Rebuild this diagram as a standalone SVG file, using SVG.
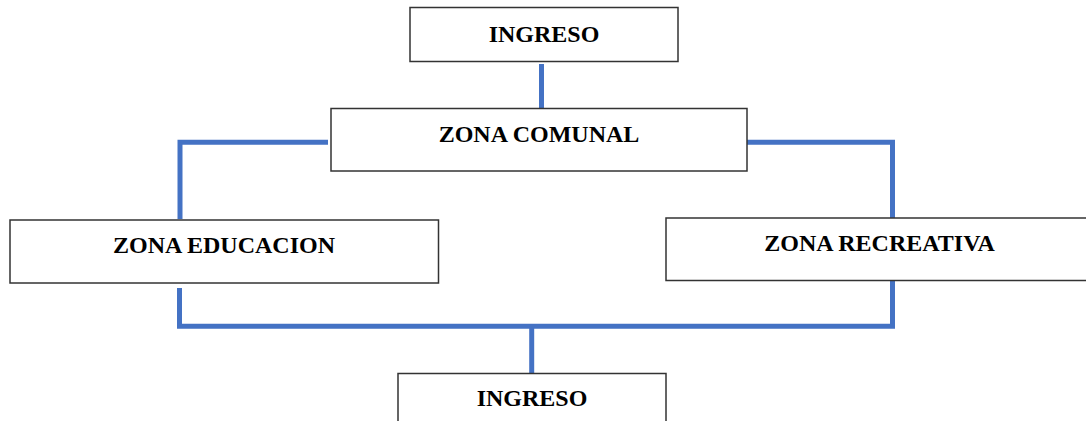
<svg xmlns="http://www.w3.org/2000/svg" width="1086" height="421" viewBox="0 0 1086 421">
<style>
.box{fill:#fff;stroke:#333;stroke-width:1.5}
.lbl{font-family:'Liberation Serif','Times New Roman',serif;font-weight:700;font-size:24px;fill:#000;text-anchor:middle}
.con{fill:none;stroke:#4472C4;stroke-width:5;stroke-linecap:butt;stroke-linejoin:miter}
</style>
<rect width="1086" height="421" fill="#fff"/>
<g id="connectors">
<line class="con" x1="541.5" y1="64" x2="541.5" y2="108"/>
<polyline class="con" points="328,142.3 180,142.3 180,219"/>
<polyline class="con" points="744,142.3 892.5,142.3 892.5,218"/>
<polyline class="con" points="179.5,288 179.5,326.3 892.5,326.3 892.5,281"/>
<line class="con" x1="531.7" y1="326" x2="531.7" y2="373"/>
</g>
<g id="n-ingreso-top">
<rect class="box" x="410" y="7.5" width="268" height="54"/>
<text class="lbl" x="544" y="41.5">INGRESO</text>
</g>
<g id="n-zona-comunal">
<rect class="box" x="331" y="108.5" width="416" height="62.5"/>
<text class="lbl" x="539" y="142.3">ZONA COMUNAL</text>
</g>
<g id="n-zona-educacion">
<rect class="box" x="10" y="220" width="428.5" height="63"/>
<text class="lbl" x="224" y="253.3">ZONA EDUCACION</text>
</g>
<g id="n-zona-recreativa">
<rect class="box" x="666" y="218" width="440" height="62.5"/>
<text class="lbl" x="879.5" y="250.7">ZONA RECREATIVA</text>
</g>
<g id="n-ingreso-bottom">
<rect class="box" x="398" y="373.5" width="268" height="60"/>
<text class="lbl" x="532" y="406">INGRESO</text>
</g>
</svg>
